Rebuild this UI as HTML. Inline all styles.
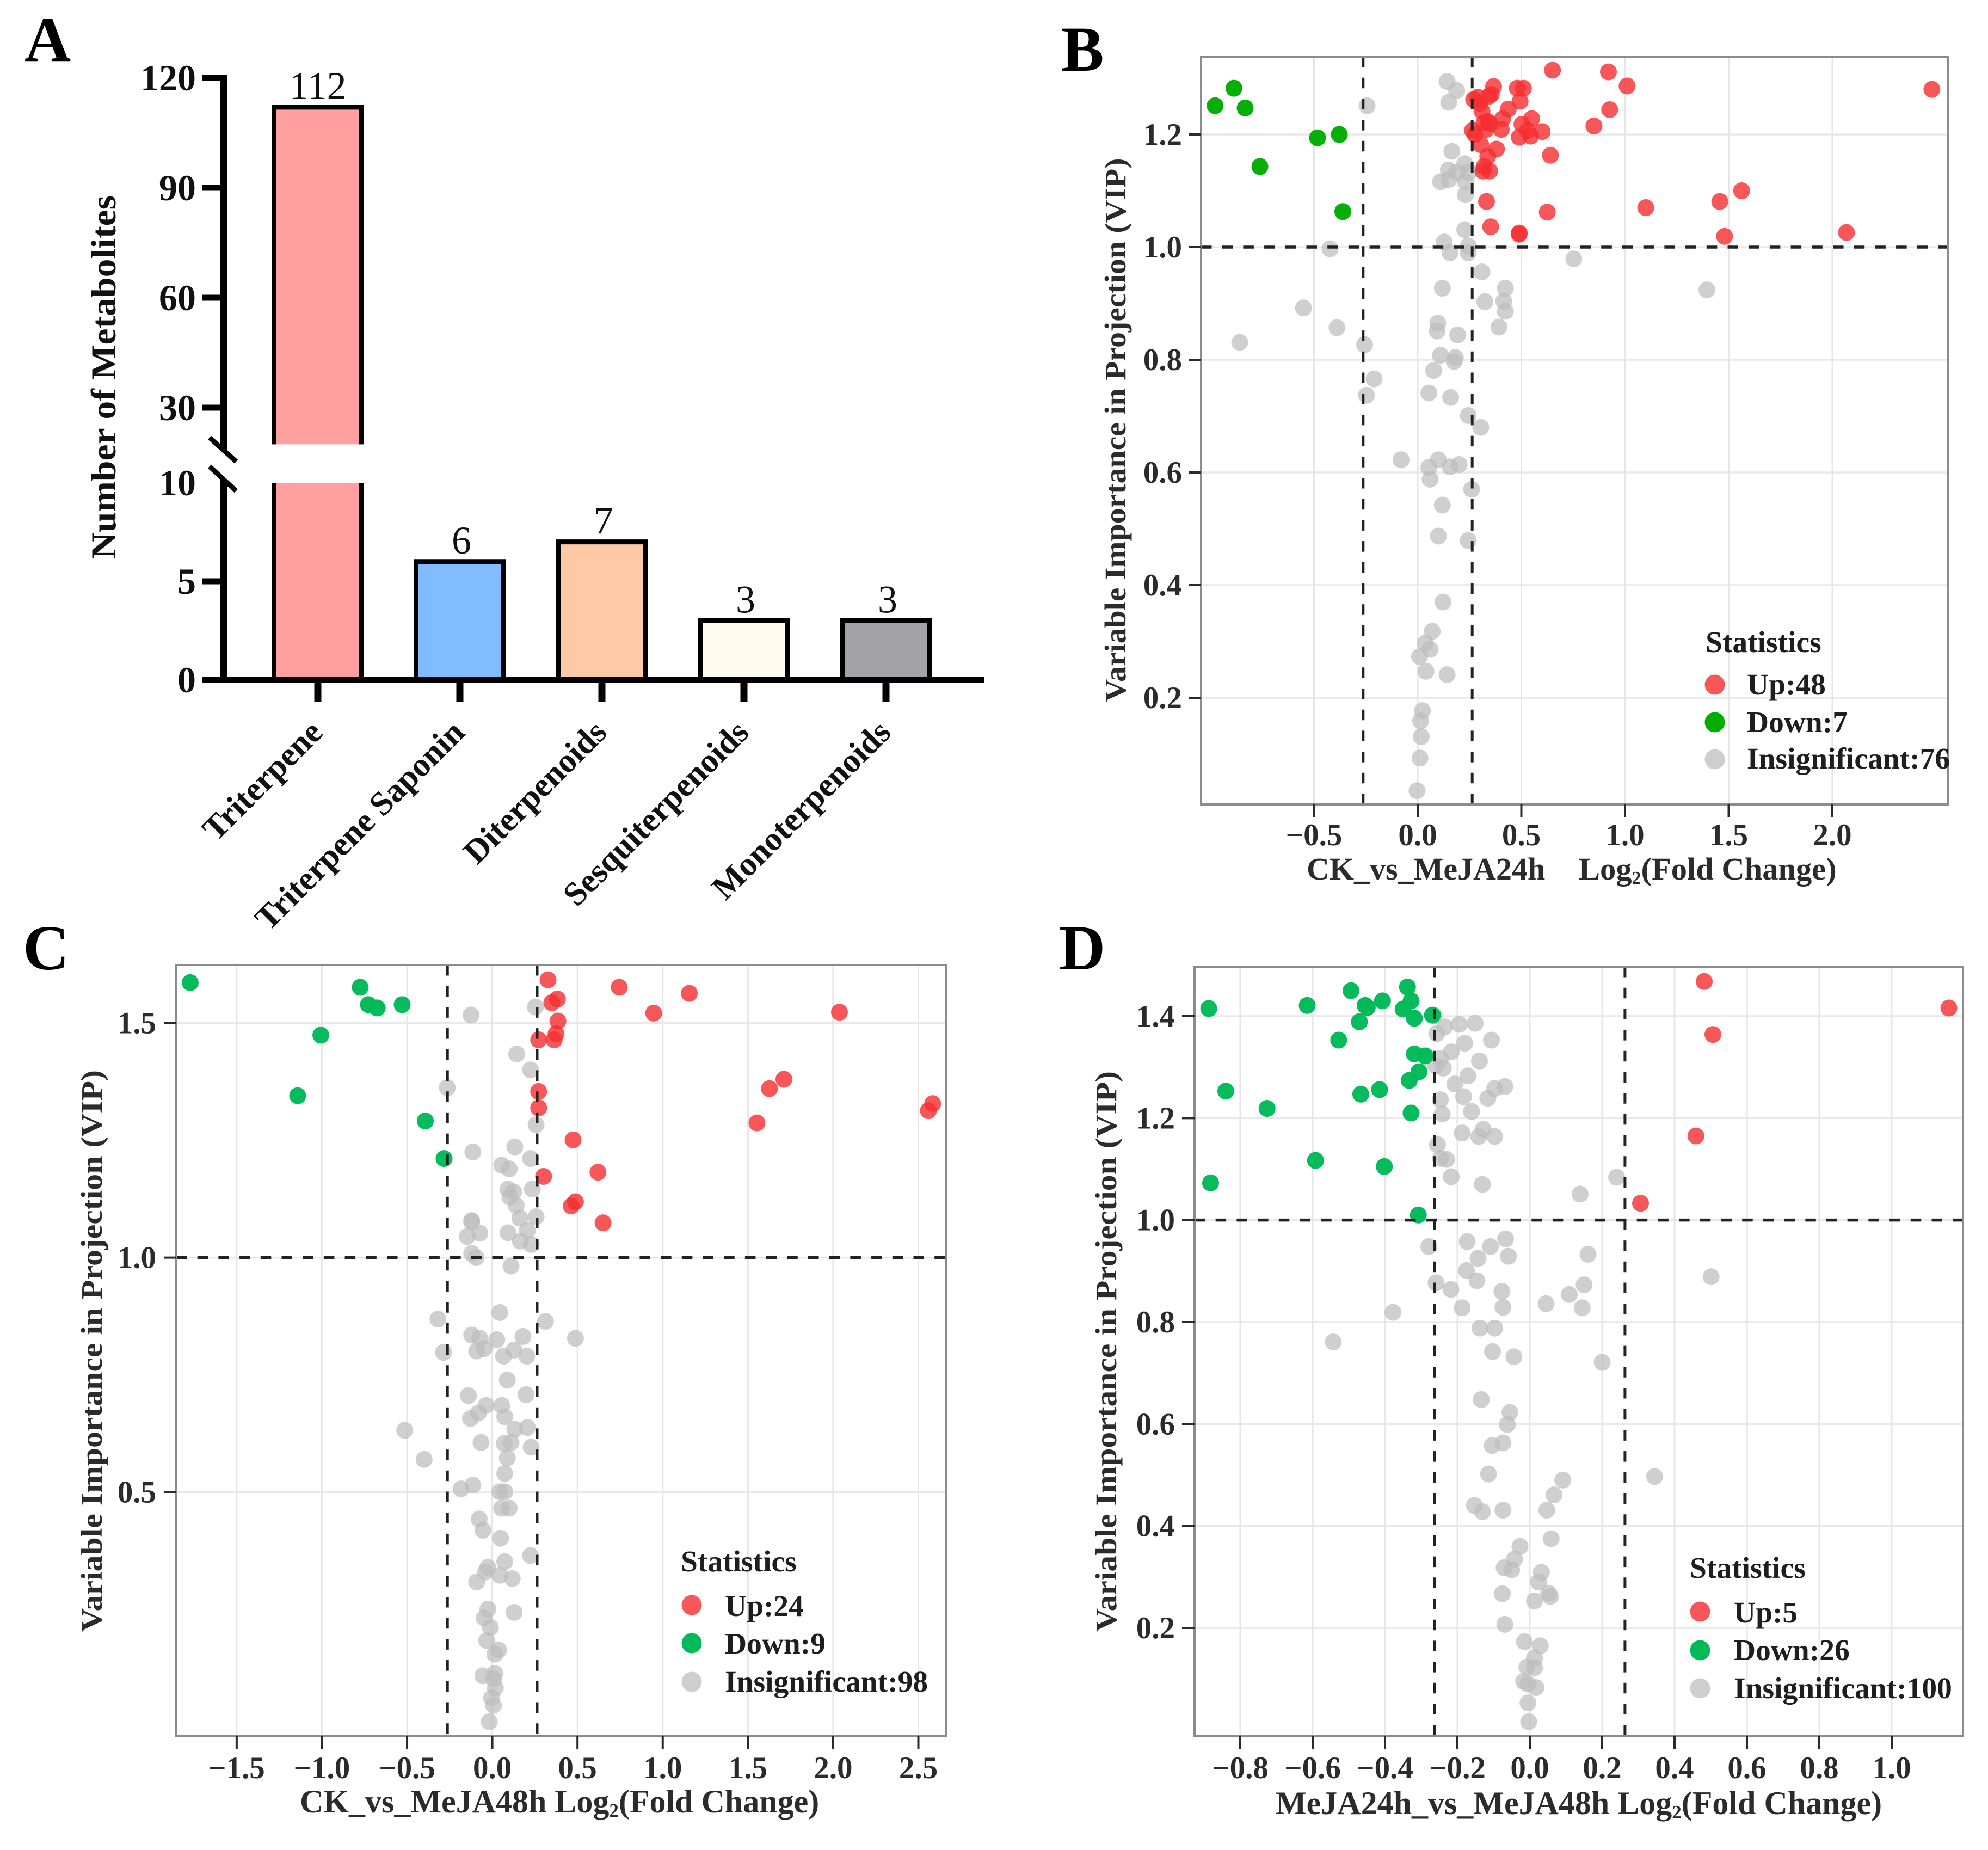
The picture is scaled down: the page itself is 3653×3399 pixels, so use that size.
<!DOCTYPE html>
<html lang="en">
<head>
<meta charset="utf-8">
<title>Terpenoid metabolites bar chart and volcano plots</title>
<style>
html,body{margin:0;padding:0;background:#fff;}
svg{display:block;}
text{font-family:"Liberation Serif","Times New Roman",serif;}
.b{font-weight:700;}
.ttl{font-weight:700;font-size:55px;fill:#2b2b2b;}
.leg{font-weight:700;font-size:55.5px;fill:#1e1e1e;}
.letter{font-weight:700;font-size:118px;fill:#000;}
</style>
</head>
<body>
<svg id="fig" xmlns="http://www.w3.org/2000/svg" width="3653" height="3399" viewBox="0 0 3653 3399">
<rect x="0" y="0" width="3653" height="3399" fill="#fff"/>
<text class="letter" x="45" y="112">A</text>
<text class="letter" x="1950" y="130">B</text>
<text class="letter" x="42" y="1781">C</text>
<text class="letter" x="1946" y="1781">D</text>

<g id="panelA">
<text class="b" font-size="65" fill="#111" transform="translate(212,693) rotate(-90)" text-anchor="middle" textLength="668" lengthAdjust="spacingAndGlyphs">Number of Metabolites</text>
</g>

<g id="panelB">
<text class="ttl" transform="translate(2068,790) rotate(-90)" text-anchor="middle" textLength="999" lengthAdjust="spacingAndGlyphs">Variable Importance in Projection (VIP)</text>
<text class="ttl" style="font-size:58px" x="2401" y="1616">CK_vs_MeJA24h</text>
<text class="ttl" style="font-size:58.5px" x="2901" y="1616">Log<tspan font-size="34" dy="8">2</tspan><tspan dy="-8">(Fold Change)</tspan></text>
</g>

<g id="panelC">
<text class="ttl" transform="translate(187,2482) rotate(-90)" text-anchor="middle" textLength="1032" lengthAdjust="spacingAndGlyphs">Variable Importance in Projection (VIP)</text>
<text class="ttl" style="font-size:60px" x="551" y="3330">CK_vs_MeJA48h Log<tspan font-size="35" dy="8">2</tspan><tspan dy="-8">(Fold Change)</tspan></text>
</g>

<g id="panelD">
<text class="ttl" transform="translate(2051,2483) rotate(-90)" text-anchor="middle" textLength="1030" lengthAdjust="spacingAndGlyphs">Variable Importance in Projection (VIP)</text>
<text class="ttl" style="font-size:60px" x="2344" y="3333">MeJA24h_vs_MeJA48h Log<tspan font-size="35" dy="8">2</tspan><tspan dy="-8">(Fold Change)</tspan></text>
</g>

<g id="overlay">
<text class="leg" x="3134" y="1198">Statistics</text>
<circle cx="3151" cy="1258" r="18.5" fill="#f52d30" opacity=".8"/>
<circle cx="3151" cy="1327" r="18.5" fill="#00ad00"/>
<circle cx="3151" cy="1395" r="18.5" fill="#bdbdbd" opacity=".75"/>
<text class="leg" x="3210" y="1276">Up:48</text>
<text class="leg" x="3210" y="1345">Down:7</text>
<text class="leg" x="3210" y="1412">Insignificant:76</text>

<text class="leg" x="1251" y="2887">Statistics</text>
<circle cx="1271" cy="2949" r="18.5" fill="#f52d30" opacity=".8"/>
<circle cx="1271" cy="3019" r="18.5" fill="#00ba58"/>
<circle cx="1271" cy="3090" r="18.5" fill="#bdbdbd" opacity=".75"/>
<text class="leg" x="1332" y="2969">Up:24</text>
<text class="leg" x="1332" y="3038">Down:9</text>
<text class="leg" x="1332" y="3108">Insignificant:98</text>

<text class="leg" x="3105" y="2899">Statistics</text>
<circle cx="3124" cy="2961" r="18.5" fill="#f52d30" opacity=".8"/>
<circle cx="3124" cy="3032" r="18.5" fill="#00ba58"/>
<circle cx="3124" cy="3102" r="18.5" fill="#bdbdbd" opacity=".75"/>
<text class="leg" x="3186" y="2981">Up:5</text>
<text class="leg" x="3186" y="3050">Down:26</text>
<text class="leg" x="3186" y="3120">Insignificant:100</text>
</g>
</svg>

<script>
// ---- Panel A data ----
const barCategories = ["Triterpene","Triterpene Saponin","Diterpenoids","Sesquiterpenoids","Monoterpenoids"];
const barValues = [112,6,7,3,3];
const barColors = ["#ff9f9f","#80bcff","#ffc9a6","#fffbef","#a3a3a7"];
const barYTicks = [0,5,10,30,60,90,120];

// ---- Panel B data: [log2 fold change, VIP] ----
const bXTicks = [-0.5,0,0.5,1,1.5,2];
const bYTicks = [0.2,0.4,0.6,0.8,1.0,1.2];
const bUp = [[0.65,1.314],[0.92,1.311],[1.01,1.286],[2.48,1.28],[0.926,1.244],[0.85,1.215],[0.366,1.285],[0.48,1.282],[0.51,1.282],[0.27,1.262],[0.30,1.255],[0.344,1.268],[0.355,1.271],[0.494,1.259],[0.437,1.245],[0.31,1.241],[0.41,1.228],[0.55,1.228],[0.503,1.218],[0.338,1.223],[0.35,1.219],[0.60,1.205],[0.264,1.207],[0.276,1.2],[0.403,1.209],[0.33,1.209],[0.49,1.195],[0.545,1.197],[0.304,1.182],[0.38,1.174],[0.338,1.161],[0.64,1.163],[0.32,1.143],[0.347,1.135],[0.315,1.135],[0.332,1.081],[0.625,1.062],[1.10,1.07],[1.457,1.081],[1.5625,1.10],[1.48,1.019],[2.068,1.026],[0.352,1.036],[0.49,1.025],[0.489,1.023],[0.29,1.266],[0.32,1.221],[0.53,1.207]];
const bDown = [[-0.977,1.251],[-0.886,1.282],[-0.832,1.247],[-0.483,1.194],[-0.378,1.2],[-0.761,1.143],[-0.361,1.063]];
const bFlat = [[0.142,1.294],[0.188,1.278],[0.15,1.257],[-0.244,1.251],[0.165,1.17],[0.227,1.148],[0.148,1.137],[0.19,1.133],[0.11,1.116],[0.15,1.12],[0.23,1.116],[0.23,1.093],[0.247,1.133],[0.227,1.031],[0.128,1.009],[0.244,1.002],[0.156,0.99],[0.244,0.99],[-0.423,0.997],[0.753,0.979],[0.31,0.956],[0.119,0.927],[0.423,0.927],[0.324,0.903],[0.415,0.904],[0.423,0.886],[-0.551,0.892],[1.395,0.924],[0.392,0.858],[0.097,0.865],[0.094,0.851],[-0.389,0.857],[0.193,0.844],[-0.858,0.831],[-0.256,0.827],[0.11,0.808],[0.182,0.804],[0.176,0.797],[0.077,0.781],[-0.21,0.766],[-0.247,0.737],[0.054,0.741],[0.159,0.733],[0.244,0.701],[0.304,0.68],[-0.08,0.6225],[0.1,0.6225],[0.054,0.609],[0.156,0.61],[0.2,0.614],[0.06,0.588],[0.26,0.57],[0.119,0.542],[0.1,0.487],[0.244,0.479],[0.122,0.37],[0.07,0.318],[0.037,0.297],[0.06,0.286],[0.009,0.273],[0.04,0.247],[0.142,0.241],[0.023,0.177],[0.014,0.159],[0.017,0.131],[0.011,0.093],[-0.003,0.035]];

// ---- Panel C data ----
const cXTicks = [-1.5,-1,-0.5,0,0.5,1,1.5,2,2.5];
const cYTicks = [0.5,1.0,1.5];
const cUp = [[0.327,1.592],[0.745,1.576],[1.156,1.563],[0.947,1.521],[2.037,1.523],[0.349,1.543],[0.382,1.551],[0.385,1.504],[0.374,1.477],[0.363,1.464],[0.272,1.464],[0.272,1.354],[0.272,1.319],[0.474,1.251],[0.62,1.182],[0.301,1.173],[0.488,1.119],[0.463,1.11],[0.65,1.074],[1.711,1.38],[1.626,1.36],[1.553,1.287],[2.584,1.328],[2.559,1.313]];
const cDown = [[-1.773,1.586],[-0.775,1.576],[-0.727,1.539],[-0.675,1.532],[-0.529,1.539],[-1.006,1.474],[-1.142,1.345],[-0.393,1.291],[-0.283,1.211]];
const cFlat = [[-0.125,1.517],[0.253,1.534],[0.143,1.434],[0.224,1.4],[-0.264,1.362],[0.257,1.283],[-0.114,1.225],[0.132,1.236],[0.224,1.211],[0.055,1.197],[0.099,1.189],[0.235,1.146],[0.092,1.146],[0.125,1.14],[0.103,1.129],[0.14,1.111],[0.162,1.084],[0.257,1.087],[-0.121,1.079],[-0.121,1.076],[-0.073,1.052],[-0.147,1.045],[0.092,1.053],[0.206,1.058],[0.165,1.035],[0.228,1.028],[-0.121,1.009],[-0.095,1.0],[0.11,0.982],[0.044,0.883],[-0.319,0.869],[0.312,0.864],[-0.121,0.835],[-0.073,0.828],[0.026,0.825],[0.18,0.832],[0.488,0.828],[-0.048,0.806],[-0.092,0.801],[-0.286,0.798],[0.128,0.803],[0.066,0.79],[0.202,0.79],[0.088,0.739],[-0.14,0.706],[0.198,0.708],[0.055,0.685],[-0.037,0.685],[-0.081,0.669],[0.073,0.661],[-0.128,0.657],[-0.514,0.632],[0.132,0.634],[0.206,0.638],[-0.066,0.606],[0.07,0.604],[0.11,0.606],[0.228,0.596],[-0.4,0.57],[0.088,0.573],[0.073,0.54],[-0.114,0.515],[-0.184,0.507],[0.044,0.501],[0.073,0.501],[0.099,0.466],[0.055,0.466],[-0.077,0.443],[-0.055,0.419],[0.048,0.402],[0.224,0.365],[0.073,0.352],[-0.026,0.34],[-0.04,0.33],[0.044,0.323],[0.117,0.316],[-0.092,0.309],[-0.026,0.251],[0.128,0.244],[-0.048,0.232],[-0.011,0.212],[-0.033,0.184],[0.037,0.164],[0.015,0.155],[-0.055,0.109],[0.015,0.114],[0.007,0.102],[0.018,0.083],[-0.004,0.062],[0.007,0.046],[-0.018,0.011]];

// ---- Panel D data ----
const dXTicks = [-0.8,-0.6,-0.4,-0.2,0,0.2,0.4,0.6,0.8,1.0];
const dYTicks = [0.2,0.4,0.6,0.8,1.0,1.2,1.4];
const dUp = [[0.482,1.468],[1.158,1.416],[0.506,1.364],[0.459,1.165],[0.306,1.033]];
const dDown = [[-0.887,1.415],[-0.615,1.421],[-0.494,1.45],[-0.455,1.421],[-0.449,1.417],[-0.407,1.43],[-0.338,1.457],[-0.328,1.43],[-0.35,1.414],[-0.319,1.396],[-0.269,1.402],[-0.471,1.389],[-0.528,1.353],[-0.319,1.326],[-0.289,1.322],[-0.306,1.291],[-0.333,1.274],[-0.415,1.256],[-0.467,1.247],[-0.84,1.253],[-0.726,1.219],[-0.328,1.21],[-0.592,1.117],[-0.402,1.105],[-0.882,1.073],[-0.308,1.01]];
const dFlat = [[-0.264,1.401],[-0.235,1.379],[-0.195,1.384],[-0.151,1.386],[-0.257,1.366],[-0.106,1.353],[-0.18,1.347],[-0.217,1.33],[-0.247,1.317],[-0.139,1.312],[-0.26,1.303],[-0.239,1.298],[-0.171,1.283],[-0.207,1.267],[-0.097,1.258],[-0.069,1.262],[-0.183,1.242],[-0.116,1.239],[-0.247,1.236],[-0.161,1.213],[-0.242,1.208],[-0.187,1.171],[-0.129,1.178],[-0.141,1.164],[-0.097,1.164],[-0.255,1.148],[-0.247,1.121],[-0.23,1.119],[-0.217,1.085],[-0.131,1.07],[0.24,1.084],[0.139,1.051],[-0.173,0.958],[-0.279,0.948],[-0.067,0.963],[-0.109,0.948],[-0.059,0.929],[-0.143,0.925],[0.161,0.933],[-0.175,0.901],[-0.146,0.881],[-0.259,0.877],[-0.218,0.864],[0.501,0.889],[0.15,0.873],[0.109,0.854],[-0.077,0.86],[-0.074,0.829],[-0.187,0.828],[0.045,0.836],[0.145,0.828],[-0.378,0.819],[-0.138,0.788],[-0.097,0.788],[-0.543,0.761],[-0.103,0.742],[-0.044,0.732],[0.2,0.721],[-0.134,0.648],[-0.055,0.623],[-0.062,0.599],[-0.074,0.563],[-0.104,0.558],[-0.114,0.502],[0.091,0.49],[0.345,0.497],[0.067,0.461],[-0.153,0.44],[-0.131,0.428],[-0.074,0.431],[0.047,0.431],[0.059,0.375],[-0.027,0.36],[-0.042,0.335],[-0.071,0.318],[-0.05,0.314],[0.032,0.309],[0.024,0.29],[-0.076,0.267],[0.052,0.268],[0.057,0.262],[0.013,0.253],[-0.069,0.207],[-0.015,0.173],[0.029,0.165],[0.013,0.141],[-0.008,0.123],[0.013,0.122],[-0.017,0.095],[-0.005,0.09],[0.017,0.083],[-0.005,0.053],[-0.003,0.016]];

const fcThreshold = 0.263;
const vipThreshold = 1;

const NS = "http://www.w3.org/2000/svg";
function mk(tag, attrs, parent, txt) {
  const e = document.createElementNS(NS, tag);
  for (const k in attrs) e.setAttribute(k, attrs[k]);
  if (txt !== undefined) e.textContent = txt;
  parent.appendChild(e);
  return e;
}
function linear(d0, d1, r0, r1) {
  return function (v) { return r0 + (v - d0) * (r1 - r0) / (d1 - d0); };
}
function fmt(v) { return (v < 0 ? "\u2212" : "") + Math.abs(v).toFixed(1); }

// ---------- Panel A ----------
function drawBars() {
  const g = document.getElementById("panelA");
  const yLow = linear(0, 10, 1249, 887);
  const yHigh = linear(30, 120, 749, 143);
  const yA = function (v) { return v <= 10 ? yLow(v) : yHigh(v); };
  const xA = function (i) { return 584 + i * 261; };
  const barW = 161;
  const sw = 9;

  barValues.forEach(function (v, i) {
    const segs = v > 10 ? [[0, 10], [20, v]] : [[0, v]];
    segs.forEach(function (s, si) {
      const yT = yA(s[1]);
      const yB = yA(s[0]);
      const fill = mk("rect", {x: xA(i) - barW / 2, y: yT, width: barW, height: yB - yT, fill: barColors[i]}, g);
      
      
      let d = "M" + (xA(i) - barW / 2) + " " + yB + "V" + yT + "H" + (xA(i) + barW / 2) + "V" + yB;
      if (si === 0 && segs.length === 2) {
        d = "M" + (xA(i) - barW / 2) + " " + yB + "V" + yT + "M" + (xA(i) + barW / 2) + " " + yT + "V" + yB;
      }
      const outline = mk("path", {d: d, fill: "none", stroke: "#000", "stroke-width": sw}, g);
      
      
    });
    const lab = mk("text", {x: xA(i) + (i > 0 ? 3 : 0), y: yA(v) - 15, "text-anchor": "middle", "font-size": 72, fill: "#111"}, g, String(v));
    
    

    const tick = mk("rect", {x: xA(i) - 6.5, y: 1249, width: 13, height: 40, fill: "#000"}, g);
    
    

    const cat = mk("text", {"text-anchor": "end", "font-size": 62, "font-weight": 700, fill: "#111", transform: "translate(" + (xA(i) + 12) + ",1349) rotate(-45)"}, g, barCategories[i]);
    
    
  });

  // axis lines
  const axU = mk("rect", {x: 405, y: 138, width: 12, height: 688, fill: "#000"}, g);
  
  
  const axL = mk("rect", {x: 405, y: 880, width: 12, height: 375, fill: "#000"}, g);
  
  
  const axX = mk("rect", {x: 372, y: 1243, width: 1436, height: 12, fill: "#000"}, g);
  
  
  [[804, 848], [857, 902]].forEach(function (p) {
    const s = mk("line", {x1: 385, y1: p[0], x2: 434, y2: p[1], stroke: "#000", "stroke-width": 9}, g);
    
    
  });

  barYTicks.forEach(function (v) {
    const y = yA(v);
    if (v !== 10 && v !== 0) {
      const t = mk("rect", {x: 372, y: y - 5.5, width: 36, height: 11, fill: "#000"}, g);
      
      
    }
    const l = mk("text", {x: 360, y: y + 23, "text-anchor": "end", "font-size": 68, "font-weight": 700, fill: "#111"}, g, String(v));
    
    
  });
}

// ---------- Volcano panels ----------
function drawVolcano(id, box, xs, ys, xTicks, yTicks, up, down, flat, downColor, tickBase, yLabelRight) {
  const g = document.getElementById(id);
  yTicks.forEach(function (v) {
    const l = mk("line", {x1: box.l, x2: box.r, y1: ys(v), y2: ys(v), stroke: "#e9e9e9", "stroke-width": 3.5}, g);
    
    
  });
  xTicks.forEach(function (v) {
    const l = mk("line", {x1: xs(v), x2: xs(v), y1: box.t, y2: box.b, stroke: "#e6e6e6", "stroke-width": 3}, g);
    
    
  });

  const drawPts = function (pts, color, op, cls) {
    pts.forEach(function (p) {
      const c = mk("circle", {cx: xs(p[0]), cy: ys(p[1]), r: 15.5, fill: color, opacity: op}, g);
      
      
    });
  };
  drawPts(flat, "#bdbdbd", 0.72, "insignificant");
  drawPts(up, "#f52d30", 0.8, "up");
  drawPts(down, downColor, 0.98, "down");

  const hl = mk("line", {x1: box.l, x2: box.r, y1: ys(vipThreshold), y2: ys(vipThreshold), stroke: "#222", "stroke-width": 5.5, "stroke-dasharray": "19.5 19.2"}, g);
  
  
  [-fcThreshold, fcThreshold].forEach(function (v) {
    const l = mk("line", {x1: xs(v), x2: xs(v), y1: box.t, y2: box.b, stroke: "#222", "stroke-width": 5, "stroke-dasharray": "19.5 19.2"}, g);
    
    
  });

  const frame = mk("rect", {x: box.l, y: box.t, width: box.r - box.l, height: box.b - box.t, fill: "none", stroke: "#8c8c8c", "stroke-width": 4}, g);
  
  

  xTicks.forEach(function (v) {
    const t = mk("line", {x1: xs(v), x2: xs(v), y1: box.b, y2: box.b + 23, stroke: "#2b2b2b", "stroke-width": 4}, g);
    
    
    const l = mk("text", {x: xs(v), y: tickBase, "text-anchor": "middle", "font-size": 57, "font-weight": 700, fill: "#2b2b2b"}, g, fmt(v));
    
    
  });
  yTicks.forEach(function (v) {
    const t = mk("line", {x1: box.l - 23, x2: box.l, y1: ys(v), y2: ys(v), stroke: "#2b2b2b", "stroke-width": 4}, g);
    
    
    const l = mk("text", {x: yLabelRight, y: ys(v) + 19, "text-anchor": "end", "font-size": 57, "font-weight": 700, fill: "#2b2b2b"}, g, v.toFixed(1));
    
    
  });
}

drawBars();
drawVolcano("panelB", {l: 2207, r: 3579, t: 104, b: 1478},
  linear(0, 2, 2605, 3367), linear(0.2, 1.2, 1282, 247),
  bXTicks, bYTicks, bUp, bDown, bFlat, "#00ad00", 1553, 2172);
drawVolcano("panelC", {l: 324, r: 1739, t: 1773, b: 3190},
  linear(0, 2.5, 904.6, 1687.5), linear(0.5, 1.5, 2741.7, 1879.5),
  cXTicks, cYTicks, cUp, cDown, cFlat, "#00ba58", 3267, 287);
drawVolcano("panelD", {l: 2195, r: 3607, t: 1776, b: 3190},
  linear(0, 1, 2811, 3476), linear(0.2, 1.4, 2991, 1867),
  dXTicks, dYTicks, dUp, dDown, dFlat, "#00ba58", 3267, 2159);
</script>
</body>
</html>
